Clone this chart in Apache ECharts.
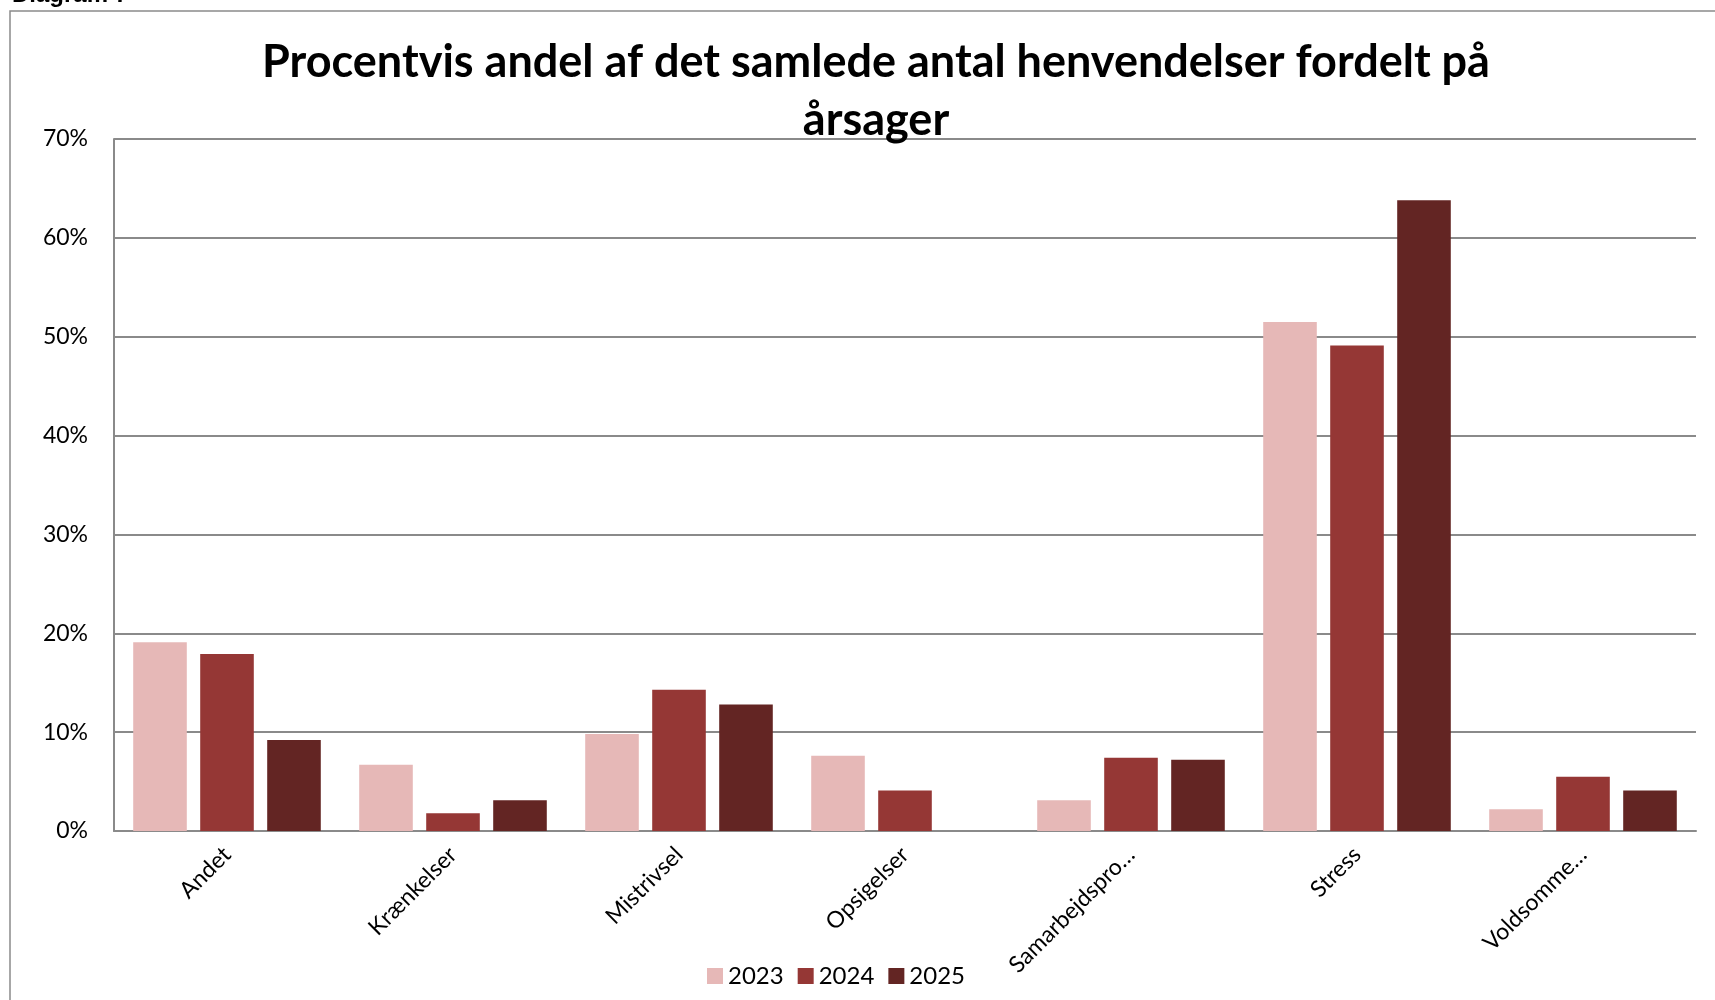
<!DOCTYPE html>
<html>
<head>
<meta charset="utf-8">
<script src="https://cdn.jsdelivr.net/npm/echarts@6/dist/echarts.min.js"></script>
<style>
  html, body { margin: 0; padding: 0; background: #fff; }
  #main { width: 1715px; height: 1000px; }
</style>
</head>
<body>
<div id="main"></div>
<script>
// kategorier og værdier (procent)
var categories = ['Andet', 'Krænkelser', 'Mistrivsel', 'Opsigelser', 'Samarbejdspro…', 'Stress', 'Voldsomme…'];
var years = ['2023', '2024', '2025'];
var values2023 = [19.1, 6.7, 9.8, 7.6, 3.1, 51.5, 2.2];
var values2024 = [17.9, 1.8, 14.3, 4.1, 7.4, 49.1, 5.5];
var values2025 = [9.2, 3.1, 12.8, 0, 7.2, 63.8, 4.1];
var yTicks = [0, 10, 20, 30, 40, 50, 60, 70];

var colors = ['#E6B8B7', '#953735', '#632523'];
var font = 'Lato, "Open Sans", sans-serif';

var myChart = echarts.init(document.getElementById('main'));

var option = {
    animation: false,
    color: colors,
    title: {
        text: 'Procentvis andel af det samlede antal henvendelser fordelt på\nårsager',
        left: 871,
        textAlign: 'center',
        top: 28,
        textStyle: {
            fontFamily: font,
            fontWeight: 'bold',
            fontSize: 45,
            lineHeight: 58,
            color: '#000'
        }
    },
    graphic: [
        {
            type: 'rect',
            shape: { x: 10, y: 11, width: 1720, height: 1010 },
            style: { fill: 'none', stroke: '#8a8a8a', lineWidth: 1.5 },
            silent: true
        },
        {
            type: 'text',
            left: 12,
            top: -17,
            style: {
                text: 'Diagram 7',
                font: 'bold 24px "Liberation Sans", Arial, sans-serif',
                fill: '#000'
            },
            silent: true
        }
    ],
    legend: {
        data: years,
        left: 702,
        bottom: 7,
        itemWidth: 16,
        itemHeight: 16,
        itemGap: 14,
        icon: 'rect',
        textStyle: { fontFamily: font, fontSize: 24, color: '#000', padding: [0, 0, 0, 0] }
    },
    grid: {
        left: 114,
        right: 19,
        top: 139,
        bottom: 169
    },
    xAxis: {
        type: 'category',
        data: categories,
        axisLine: { lineStyle: { color: '#8a8a8a', width: 2 } },
        axisTick: { show: false },
        axisLabel: {
            rotate: 45,
            margin: 20,
            interval: 0,
            fontFamily: font,
            fontSize: 23,
            color: '#000'
        }
    },
    yAxis: {
        type: 'value',
        min: yTicks[0],
        max: yTicks[yTicks.length - 1],
        interval: 10,
        axisLine: { show: true, lineStyle: { color: '#8a8a8a', width: 2 } },
        axisTick: { show: false },
        splitLine: { lineStyle: { color: '#8a8a8a', width: 2 } },
        axisLabel: {
            formatter: '{value}%',
            margin: 26,
            fontFamily: font,
            fontSize: 23,
            color: '#000'
        }
    },
    series: [
        { name: years[0], type: 'bar', data: values2023, barGap: '25%', barCategoryGap: '17%' },
        { name: years[1], type: 'bar', data: values2024, barGap: '25%', barCategoryGap: '17%' },
        { name: years[2], type: 'bar', data: values2025, barGap: '25%', barCategoryGap: '17%' }
    ]
};

myChart.setOption(option);
</script>
</body>
</html>
